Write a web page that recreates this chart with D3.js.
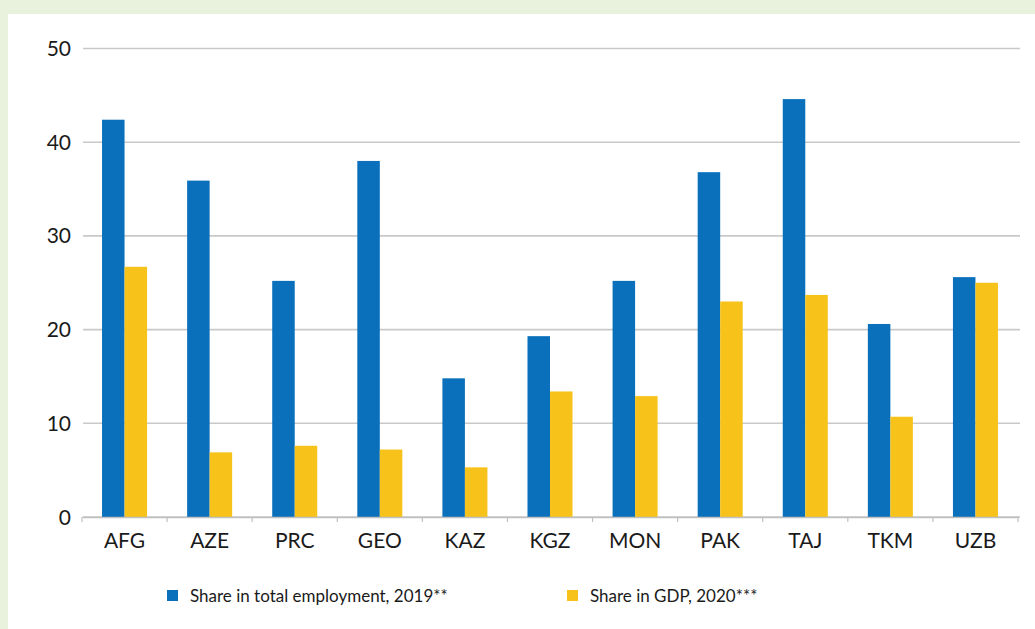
<!DOCTYPE html>
<html>
<head>
<meta charset="utf-8">
<script src="https://cdn.jsdelivr.net/npm/d3@7"></script>
<style>
  html, body { margin: 0; padding: 0; background: #e9f2dc; }
  svg { display: block; }
  text { font-family: Lato, "Open Sans", sans-serif; fill: #1a1a1a; }
</style>
</head>
<body>
<div id="chart"></div>
<script>
// categories and series
const economies = ["AFG", "AZE", "PRC", "GEO", "KAZ", "KGZ", "MON", "PAK", "TAJ", "TKM", "UZB"];
const employmentShare = [42.4, 35.9, 25.2, 38.0, 14.8, 19.3, 25.2, 36.8, 44.6, 20.6, 25.6];
const gdpShare = [26.7, 6.9, 7.6, 7.2, 5.3, 13.4, 12.9, 23.0, 23.7, 10.7, 25.0];
const seriesNames = ["Share in total employment, 2019**", "Share in GDP, 2020***"];
const seriesColors = ["#0a70bc", "#f7c31a"];
const yTicks = [0, 10, 20, 30, 40, 50];

const width = 1035, height = 629;

const svg = d3.select("#chart").append("svg")
    .attr("width", width)
    .attr("height", height);

// white panel on the green page
svg.append("rect")
    .attr("x", 8).attr("y", 14)
    .attr("width", width - 8).attr("height", height - 14)
    .attr("fill", "#ffffff");

const x = d3.scaleBand()
    .domain(economies)
    .range([82, 1018])
    .padding(0);

const xInner = d3.scaleBand()
    .domain([0, 1])
    .range([0, x.bandwidth()])
    .paddingInner(0)
    .paddingOuter(0.89);

const y = d3.scaleLinear()
    .domain([0, 50])
    .range([517, 48.5]);

// gridlines
svg.append("g")
    .selectAll("line")
    .data(yTicks)
    .join("line")
    .attr("x1", 83)
    .attr("x2", 1020)
    .attr("y1", d => y(d))
    .attr("y2", d => y(d))
    .attr("stroke", "#c9c9c9")
    .attr("stroke-width", 1.6);

// y labels
svg.append("g")
    .selectAll("text")
    .data(yTicks)
    .join("text")
    .attr("x", 71)
    .attr("y", d => y(d))
    .attr("dy", "0.36em")
    .attr("text-anchor", "end")
    .style("font-size", "21px")
    .text(d => d);

// bars, one group per economy
const rows = economies.map((e, i) => ({ name: e, values: [employmentShare[i], gdpShare[i]] }));

const groups = svg.append("g")
    .selectAll("g")
    .data(rows)
    .join("g")
    .attr("transform", d => `translate(${x(d.name)},0)`);

groups.selectAll("rect")
    .data(d => d.values.map((v, k) => ({ k: k, v: v })))
    .join("rect")
    .attr("x", d => xInner(d.k))
    .attr("width", xInner.bandwidth())
    .attr("y", d => y(d.v))
    .attr("height", d => y(0) - y(d.v))
    .attr("fill", d => seriesColors[d.k]);

// x axis with ticks between categories
const xAxis = svg.append("g")
    .attr("transform", `translate(0,${y(0)})`)
    .call(d3.axisBottom(x).tickSize(0).tickPadding(16).tickSizeOuter(0));
xAxis.select(".domain").attr("stroke", "#c0c0c0").attr("stroke-width", 1.6);
xAxis.selectAll("text")
    .style("font-family", "Lato, 'Open Sans', sans-serif")
    .style("font-size", "21px")
    .attr("fill", "#1a1a1a");

// small separator ticks
const bounds = economies.map(e => x(e)).concat([x.range()[1]]);
svg.append("g")
    .selectAll("line")
    .data(bounds)
    .join("line")
    .attr("x1", d => d).attr("x2", d => d)
    .attr("y1", y(0)).attr("y2", y(0) + 5)
    .attr("stroke", "#c0c0c0")
    .attr("stroke-width", 1.2);

// legend
const legendX = [167, 567];
const legend = svg.append("g")
    .selectAll("g")
    .data(seriesNames)
    .join("g")
    .attr("transform", (d, i) => `translate(${legendX[i]},590)`);

legend.append("rect")
    .attr("width", 11).attr("height", 11)
    .attr("fill", (d, i) => seriesColors[i]);

legend.append("text")
    .attr("x", 23)
    .attr("y", 6)
    .attr("dy", "0.36em")
    .style("font-size", "17px")
    .text(d => d);
</script>
</body>
</html>
